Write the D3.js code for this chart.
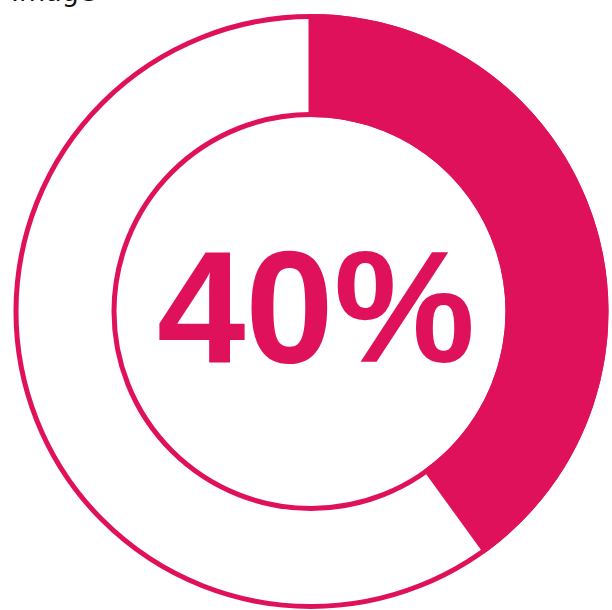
<!DOCTYPE html>
<html>
<head>
<meta charset="utf-8">
<script src="https://cdn.jsdelivr.net/npm/d3@7"></script>
<style>
  body { margin: 0; background: #fff; }
</style>
</head>
<body>
<div class="chart"></div>
<script>
var svgWidth = 612;
var svgHeight = 610;

// Data
var labels = ["Done", "Remaining"];
var values = [40, 60];
var centerLabel = "40%";
var caption = "Image";

var pink = "#e0115b";

var cx = 311;
var cy = 311.5;
var outerR = 295;
var innerR = 197;

var svg = d3.select(".chart")
  .append("svg")
  .attr("width", svgWidth)
  .attr("height", svgHeight);

// caption, cut off at the top like the source
svg.append("text")
  .attr("x", 11)
  .attr("y", 1)
  .style("font-family", "DejaVu Sans")
  .style("font-size", "27px")
  .style("fill", "#111")
  .text(caption);

var chartGroup = svg.append("g")
  .attr("transform", `translate(${cx}, ${cy})`);

var pie = d3.pie().sort(null).value(d => d);
var slices = pie(values);

var arc = d3.arc()
  .innerRadius(innerR)
  .outerRadius(outerR);

// filled share
chartGroup.selectAll("path.slice")
  .data(slices.slice(0, 1))
  .enter()
  .append("path")
  .attr("class", "slice")
  .attr("d", arc)
  .attr("fill", pink)
  .attr("stroke", pink)
  .attr("stroke-width", 5)
  .attr("stroke-linejoin", "miter");

// thin rings
var ringArc = d3.arc().startAngle(0).endAngle(2 * Math.PI);
chartGroup.selectAll("path.ring")
  .data([outerR, innerR])
  .enter()
  .append("path")
  .attr("class", "ring")
  .attr("d", r => ringArc({innerRadius: r, outerRadius: r}))
  .attr("fill", "none")
  .attr("stroke", pink)
  .attr("stroke-width", 5);

// Label
chartGroup.append("text")
  .attr("x", 5)
  .attr("y", 50.5)
  .style("text-anchor", "middle")
  .style("font-family", "Liberation Sans, Arial, sans-serif")
  .style("font-weight", "bold")
  .style("font-size", "159px")
  .style("fill", pink)
  .text(centerLabel);
</script>
</body>
</html>
